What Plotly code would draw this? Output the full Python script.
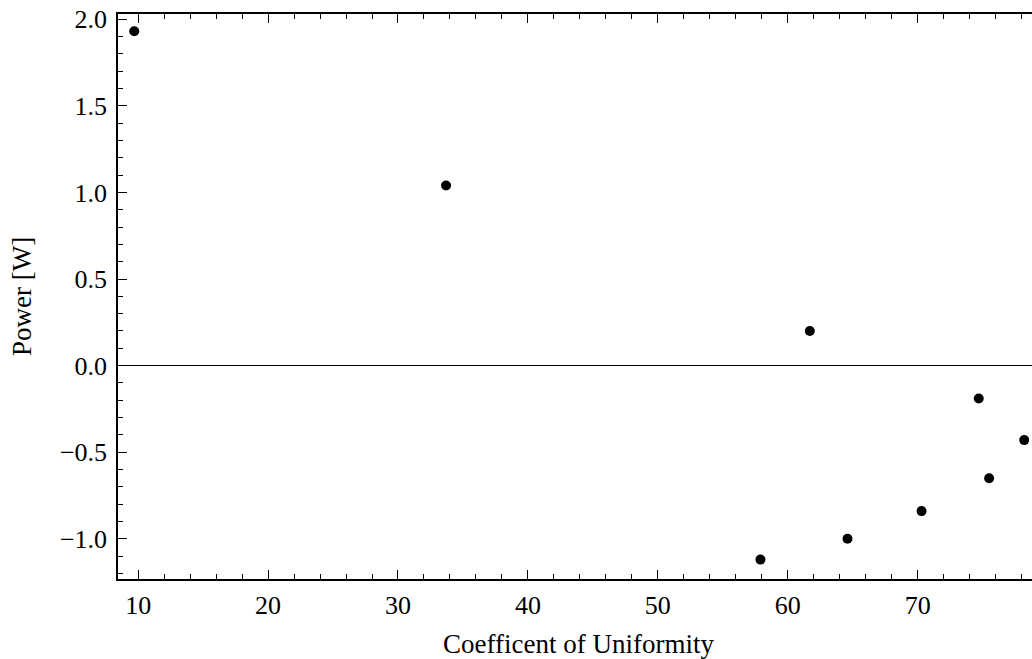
import plotly.graph_objects as go

# Data
cu = [9.7, 33.7, 61.7, 57.9, 64.6, 70.3, 74.7, 75.5, 78.2]
power = [1.93, 1.04, 0.20, -1.12, -1.00, -0.84, -0.19, -0.65, -0.43]

x_ticks = [10, 20, 30, 40, 50, 60, 70]
y_ticks = [-1.0, -0.5, 0.0, 0.5, 1.0, 1.5, 2.0]

font_family = "Liberation Serif"

fig = go.Figure()
fig.add_trace(go.Scatter(
    x=cu, y=power, mode="markers",
    marker=dict(color="black", size=10),
    showlegend=False,
))

L, R, T, B = 118, 0, 14, 80
W, H = 1032, 659

fig.update_layout(
    width=W, height=H,
    margin=dict(l=L, r=R, t=T, b=B),
    paper_bgcolor="white", plot_bgcolor="white",
    font=dict(family=font_family, color="black", size=26),
    xaxis=dict(
        range=[8.45, 78.8],
        tickvals=x_ticks, ticktext=[str(v) for v in x_ticks],
        ticks="inside", ticklen=9, tickwidth=1, tickcolor="black",
        minor=dict(ticks="inside", dtick=2, tick0=0, ticklen=5, tickcolor="black", tickwidth=1),
        showline=True, linecolor="black", linewidth=1.5, mirror="ticks",
        showgrid=False, zeroline=False,
        tickfont=dict(size=26, family=font_family),
        ticklabelstandoff=2,
    ),
    yaxis=dict(
        range=[-1.232, 2.03],
        tickvals=y_ticks, ticktext=[f"{v:.1f}".replace("-", "\u2212") for v in y_ticks],
        ticks="inside", ticklen=9, tickwidth=1, tickcolor="black",
        minor=dict(ticks="inside", dtick=0.1, tick0=0, ticklen=5, tickcolor="black", tickwidth=1),
        showline=True, linecolor="black", linewidth=1.5, mirror=False,
        showgrid=False, zeroline=True, zerolinecolor="black", zerolinewidth=1.2,
        tickfont=dict(size=26, family=font_family),
        ticklabelstandoff=4,
    ),
    annotations=[
        dict(text="Coefficent of Uniformity", xref="paper", yref="paper",
             x=(578 - L) / (W - L - R), y=(H - B - 644) / (H - T - B),
             xanchor="center", yanchor="middle", showarrow=False,
             font=dict(size=27, family=font_family)),
        dict(text="Power [W]", xref="paper", yref="paper",
             x=(22 - L) / (W - L - R), y=(H - B - 297) / (H - T - B),
             xanchor="center", yanchor="middle", showarrow=False, textangle=-90,
             font=dict(size=27, family=font_family)),
    ],
)

fig.write_html("out.html")
